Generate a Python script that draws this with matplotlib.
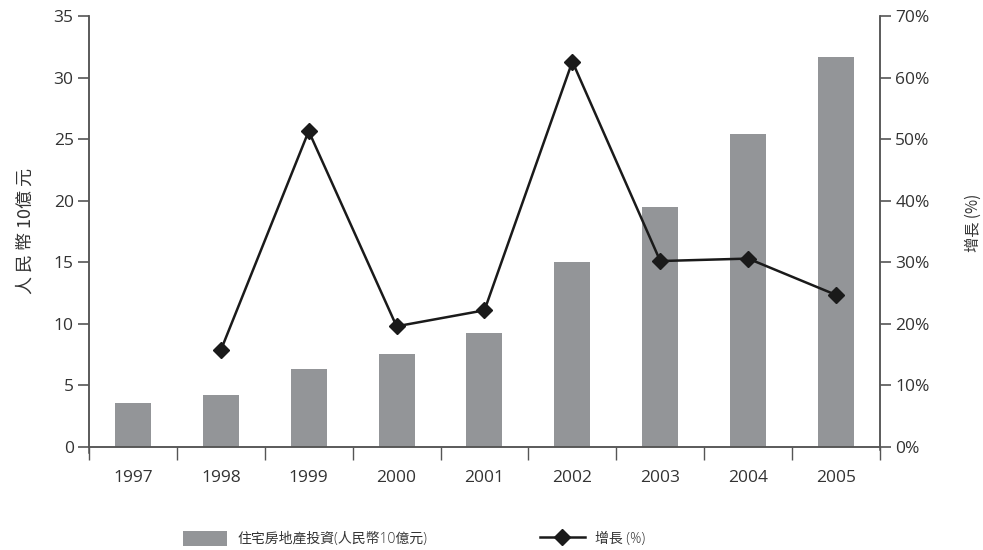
import matplotlib.pyplot as plt
from matplotlib.patches import Patch
from matplotlib.lines import Line2D
from matplotlib.ticker import FixedLocator, FuncFormatter

plt.rcParams['font.family'] = ['Open Sans', 'Noto Sans CJK TC', 'DejaVu Sans']

years = ["1997", "1998", "1999", "2000", "2001", "2002", "2003", "2004", "2005"]
investment = [3.6, 4.2, 6.3, 7.55, 9.25, 15.0, 19.5, 25.4, 31.65]
growth_years = ["1998", "1999", "2000", "2001", "2002", "2003", "2004", "2005"]
growth = [15.7, 51.3, 19.6, 22.2, 62.6, 30.2, 30.6, 24.7]

bar_color = "#939598"
axis_color = "#555555"
text_color = "#333333"
cjk = ['Noto Sans CJK TC', 'DejaVu Sans']
mixed = ['Open Sans', 'Noto Sans CJK TC', 'DejaVu Sans']

fig = plt.figure(figsize=(9.83, 5.5), dpi=100)
ax = fig.add_axes([0.0905, 0.1873, 0.8047, 0.7836])
ax2 = ax.twinx()

x = list(range(len(years)))
ax.bar(x, investment, width=0.41, color=bar_color, zorder=2)

gx = [years.index(y) for y in growth_years]
ax2.plot(gx, growth, color="#1a1a1a", linewidth=1.8, marker="D",
         markersize=8, zorder=3)

ax.set_xlim(-0.5, len(years) - 0.5)
ax.set_ylim(0, 35)
ax2.set_ylim(0, 70)

# category boundaries get the tick marks, labels sit at the centres
ax.xaxis.set_major_locator(FixedLocator([i - 0.5 for i in range(len(years) + 1)]))
ax.xaxis.set_major_formatter(FuncFormatter(lambda v, p: ""))
ax.xaxis.set_minor_locator(FixedLocator(x))
ax.set_xticklabels(years, minor=True)
ax.tick_params(axis="x", which="major", direction="out", length=9,
               width=1, color=axis_color)
ax.tick_params(axis="x", which="minor", length=0, pad=16.5,
               labelsize=12.5, labelcolor=text_color)

ax.set_yticks(range(0, 36, 5))
ax.tick_params(axis="y", direction="out", length=8, width=1.2,
               color=axis_color, labelsize=12.5, labelcolor=text_color, pad=3)
ax2.set_yticks(range(0, 71, 10))
ax2.yaxis.set_major_formatter(FuncFormatter(lambda v, p: f"{int(v)}%"))
ax2.tick_params(axis="y", direction="out", length=8, width=1.2,
                color=axis_color, labelsize=12.5, labelcolor=text_color, pad=3)

for a in (ax, ax2):
    a.spines["top"].set_visible(False)
    for s in ("left", "right", "bottom"):
        a.spines[s].set_color(axis_color)
        a.spines[s].set_linewidth(1.1)
ax.spines["left"].set_bounds(-0.5, 35)
ax2.spines["right"].set_bounds(-0.5, 70)

ax.set_ylabel("人 民 幣 10億 元", family=cjk, fontsize=13, color=text_color,
              labelpad=14, fontweight="light")
ax2.set_ylabel("增長 (%)", family=cjk, fontsize=11, color=text_color,
               fontweight="light")
ax2.yaxis.set_label_coords(1.107, 0.52)

handles = [Patch(facecolor=bar_color, edgecolor="none"),
           Line2D([], [], color="#1a1a1a", linewidth=1.8, marker="D", markersize=8)]
labels = ["住宅房地產投資(人民幣10億元)", "增長 (%)"]
leg = fig.legend(handles, labels, loc="center left", bbox_to_anchor=(0.186, 0.02),
                 ncol=2, frameon=False, handlelength=3.2, handleheight=1.25,
                 handletextpad=0.75, columnspacing=8.1, borderaxespad=0, borderpad=0,
                 prop={"family": mixed, "size": 10, "weight": "light"})
for t in leg.get_texts():
    t.set_color(text_color)

fig.savefig("out.png", dpi=100)
